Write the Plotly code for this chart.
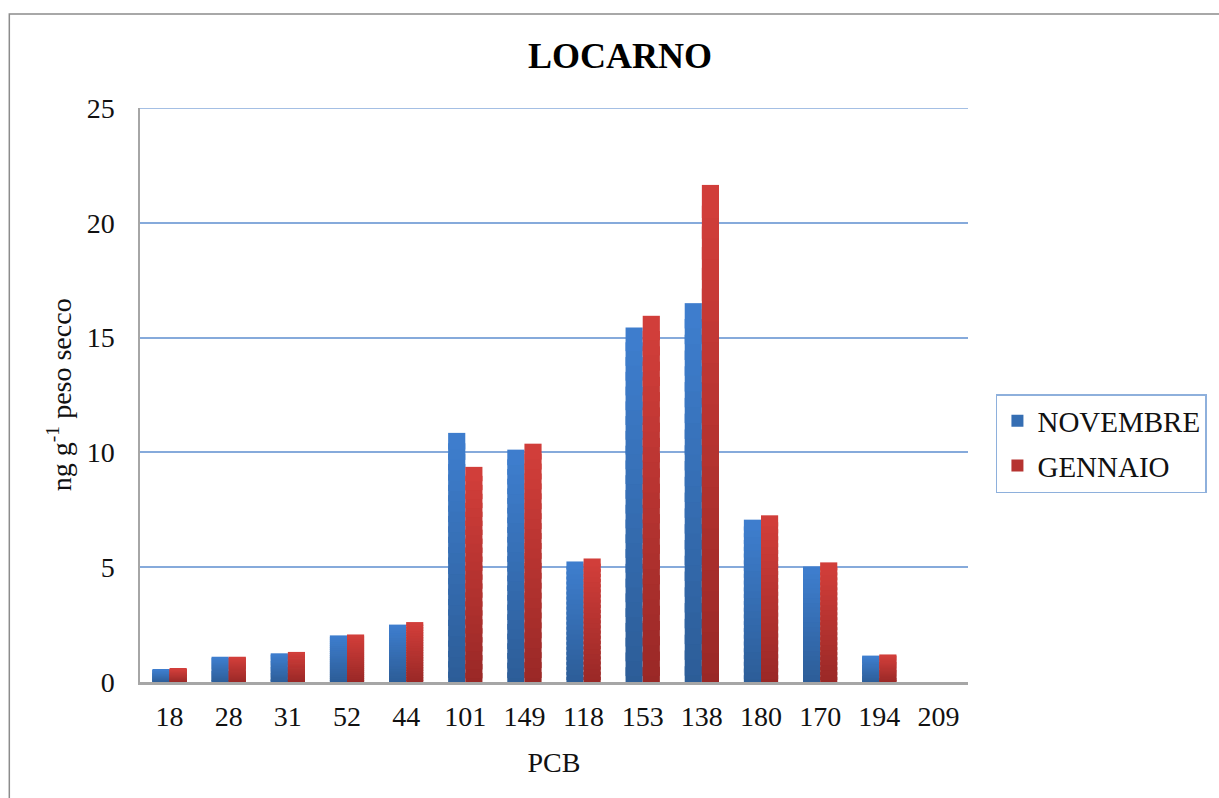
import plotly.graph_objects as go

# PCB congeners and concentrations (ng g-1 dry weight)
pcb = ["18", "28", "31", "52", "44", "101", "149", "118", "153", "138", "180", "170", "194", "209"]
novembre = [0.54, 1.10, 1.25, 2.03, 2.50, 10.85, 10.12, 5.25, 15.44, 16.50, 7.07, 5.03, 1.15, 0.0]
gennaio = [0.58, 1.10, 1.31, 2.07, 2.61, 9.37, 10.38, 5.38, 15.95, 21.65, 7.26, 5.21, 1.20, 0.0]

Y_MAX = 25
Y_STEP = 5

series = [
    ("NOVEMBRE", novembre, (44, 92, 150), (62, 126, 206), -0.29),
    ("GENNAIO", gennaio, (152, 40, 38), (210, 62, 58), 0.0),
]

FONT = "Liberation Serif, Times New Roman, serif"
GRID = "#86aadb"
N_SEG = 24      # vertical gradient steps per bar
OVERLAP = 0.6   # each step reaches down into the one below to avoid seams


def mix(c0, c1, t):
    return "rgb({},{},{})".format(*[round(a + (b - a) * t) for a, b in zip(c0, c1)])


fig = go.Figure()
for name, vals, dark, light, off in series:
    for k in range(N_SEG):
        t = (k + 0.5) / N_SEG
        lo = max(k - OVERLAP, 0)
        fig.add_trace(go.Bar(
            x=pcb,
            y=[v * (k + 1 - lo) / N_SEG for v in vals],
            base=[v * lo / N_SEG for v in vals],
            width=0.29,
            offset=off,
            marker=dict(color=mix(dark, light, t), line=dict(width=0)),
            name=name,
            legendgroup=name,
            showlegend=(k == N_SEG // 2),
            hoverinfo="skip",
        ))

# chart frame
fig.add_shape(type="rect", xref="paper", yref="paper",
              x0=(9 - 140) / 830, x1=(1230 - 140) / 830,
              y0=(682 - 810) / 574, y1=(682 - 14) / 574,
              line=dict(color="#8c8c8c", width=1.5), fillcolor="rgba(0,0,0,0)",
              layer="below")

# gridline at the top of the value range (plotly skips it at the axis edge)
fig.add_shape(type="line", xref="paper", yref="y", x0=0, x1=1, y0=Y_MAX, y1=Y_MAX,
              line=dict(color=GRID, width=1.5), layer="below")

# value-axis title
fig.add_annotation(text="ng g<sup>-1</sup> peso secco", xref="paper", yref="paper",
                   x=(59 - 140) / 830, y=0.5, xanchor="center", yanchor="middle",
                   textangle=-90, showarrow=False,
                   font=dict(family=FONT, size=28, color="#111111"))

fig.update_layout(
    width=1219, height=798,
    margin=dict(l=140, r=249, t=108, b=116),
    paper_bgcolor="white", plot_bgcolor="white",
    barmode="overlay",
    font=dict(family=FONT, size=28, color="#111111"),
    title=dict(text="<b>LOCARNO</b>", x=620 / 1219, xanchor="center",
               y=1 - 55 / 798, yanchor="middle", yref="container",
               font=dict(family=FONT, size=36, color="#000000")),
    xaxis=dict(
        type="category", categoryorder="array", categoryarray=pcb,
        showgrid=False, showline=True, linecolor="#a6a6a6", linewidth=2.5,
        ticks="", ticklabelstandoff=8,
        tickfont=dict(family=FONT, size=28),
        title=dict(text="PCB", font=dict(family=FONT, size=28), standoff=22),
    ),
    yaxis=dict(
        range=[0, Y_MAX], dtick=Y_STEP, tick0=0,
        showgrid=True, gridcolor=GRID, gridwidth=1.5,
        zeroline=False, showline=True, linecolor="#a6a6a6", linewidth=1.5,
        ticks="", ticklabelstandoff=18,
        tickfont=dict(family=FONT, size=28),
    ),
    legend=dict(
        x=(998 - 140) / 830, xanchor="left",
        y=(682 - 394) / 574, yanchor="top",
        bordercolor="#8eb0dc", borderwidth=1.5, bgcolor="white",
        font=dict(family=FONT, size=29, color="#111111"),
        itemwidth=30, tracegroupgap=4,
    ),
)

fig.write_html("out.html")
